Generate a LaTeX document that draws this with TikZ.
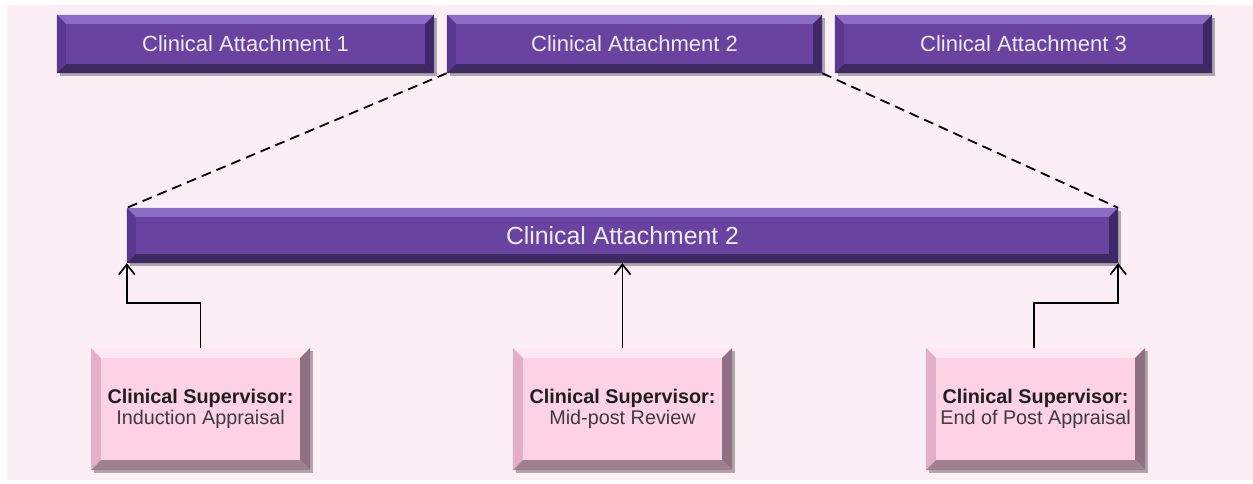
\documentclass[tikz,border=0pt]{standalone}
\usepackage{fontspec}
\setmainfont{Liberation Sans}
\usetikzlibrary{shadows,arrows.meta,calc}
\definecolor{bgpink}{HTML}{FBEEF5}
\definecolor{pface}{HTML}{6844A0}
\definecolor{ptop}{HTML}{8C6CC6}
\definecolor{pleft}{HTML}{5A3892}
\definecolor{pright}{HTML}{3E2668}
\definecolor{pbot}{HTML}{3E2A60}
\definecolor{ptext}{HTML}{F0EAF8}
\definecolor{kface}{HTML}{FDD2E4}
\definecolor{ktop}{HTML}{FFE8F2}
\definecolor{kleft}{HTML}{E2B0C6}
\definecolor{kright}{HTML}{8E7080}
\definecolor{kbot}{HTML}{A08090}
\definecolor{ktext}{HTML}{1E1E1E}
\definecolor{ktext2}{HTML}{3C3C3C}
\newcommand\bevbox[6]{%
  \fill[#3] (#1.north west) -- (#1.north east) -- ([shift={(-#2,#2)}]#1.north east) -- ([shift={(#2,#2)}]#1.north west) -- cycle;
  \fill[#4] (#1.north west) -- ([shift={(#2,#2)}]#1.north west) -- ([shift={(#2,-#2)}]#1.south west) -- (#1.south west) -- cycle;
  \fill[#5] (#1.north east) -- ([shift={(-#2,#2)}]#1.north east) -- ([shift={(-#2,-#2)}]#1.south east) -- (#1.south east) -- cycle;
  \fill[#6] (#1.south west) -- ([shift={(#2,-#2)}]#1.south west) -- ([shift={(-#2,-#2)}]#1.south east) -- (#1.south east) -- cycle;
}
\tikzset{
  purplebox/.style={rectangle, fill=pface, inner sep=0pt, text=ptext,
    drop shadow={shadow xshift=3pt, shadow yshift=-3pt, opacity=0.3, fill=black}},
  pinkbox/.style={rectangle, fill=kface, inner sep=0pt, minimum width=219pt, minimum height=122pt,
    align=center, text=ktext,
    drop shadow={shadow xshift=3pt, shadow yshift=-3pt, opacity=0.3, fill=black}},
  toplabel/.style={text=ptext, font=\fontsize{22pt}{25pt}\selectfont},
  pinklabel/.style={align=center, text=ktext, font=\fontsize{19.8pt}{21.5pt}\selectfont},
  dashline/.style={draw=black, line width=1.8pt, dash pattern=on 10pt off 6pt},
  arr/.style={draw=black, line width=1.7pt, -{Straight Barb[length=10pt,width=16pt,line width=1.7pt]}}
}
\begin{document}
\begin{tikzpicture}[x=1pt,y=-1pt]
\useasboundingbox (0,0) rectangle (1253,483);
\fill[bgpink] (7,5) rectangle (1253,480);
% top boxes
\node[purplebox, minimum width=377pt, minimum height=58pt] (t1) at (245.5,44) {};
\node[purplebox, minimum width=375pt, minimum height=58pt] (t2) at (634.5,44) {};
\node[purplebox, minimum width=377pt, minimum height=58pt] (t3) at (1023.5,44) {};
\bevbox{t1}{9}{ptop}{pleft}{pright}{pbot}
\bevbox{t2}{9}{ptop}{pleft}{pright}{pbot}
\bevbox{t3}{9}{ptop}{pleft}{pright}{pbot}
\node[toplabel] (t1l) at (t1) {Clinical Attachment 1};
\node[toplabel] (t2l) at (t2) {Clinical Attachment 2};
\node[toplabel] (t3l) at (t3) {Clinical Attachment 3};
% bar
\node[purplebox, minimum width=991pt, minimum height=55pt] (bar) at (622.5,235.5) {};
\bevbox{bar}{9}{ptop}{pleft}{pright}{pbot}
\node[text=ptext, font=\fontsize{24.8pt}{28pt}\selectfont] (barl) at (bar) {Clinical Attachment 2};
% pink boxes
\node[pinkbox] (p1) at (200.5,409) {};
\node[pinkbox] (p2) at (622.5,409) {};
\node[pinkbox] (p3) at (1035.5,409) {};
\bevbox{p1}{10}{ktop}{kleft}{kright}{kbot}
\bevbox{p2}{10}{ktop}{kleft}{kright}{kbot}
\bevbox{p3}{10}{ktop}{kleft}{kright}{kbot}
\node[pinklabel] (p1l) at (p1) {\textbf{Clinical Supervisor:}\\\textcolor{ktext2}{Induction Appraisal}};
\node[pinklabel] (p2l) at (p2) {\textbf{Clinical Supervisor:}\\\textcolor{ktext2}{Mid-post Review}};
\node[pinklabel] (p3l) at (p3) {\textbf{Clinical Supervisor:}\\\textcolor{ktext2}{End of Post Appraisal}};
% dashed connectors
\draw[dashline] (t2.south west) -- (bar.north west);
\draw[dashline] (t2.south east) -- (bar.north east);
% arrows
\draw[arr] (p1.north) -- ++(0,-45) -| (bar.south west);
\draw[arr] (p2.north) -- (p2.north |- bar.south);
\draw[arr] ([xshift=-1.5pt]p3.north) -- ++(0,-45) -| (bar.south east);
\end{tikzpicture}
\end{document}
